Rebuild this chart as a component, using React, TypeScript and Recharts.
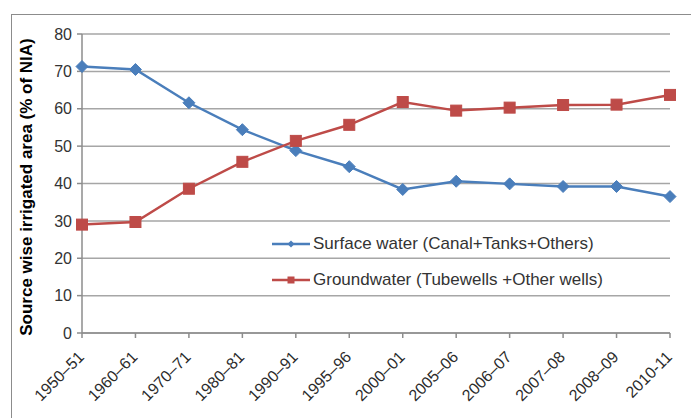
import React from 'react';
import { LineChart, Line, XAxis, YAxis, CartesianGrid, Legend } from 'recharts';

const periods = [
  '1950–51', '1960–61', '1970–71', '1980–81', '1990–91', '1995–96',
  '2000–01', '2005–06', '2006–07', '2007–08', '2008–09', '2010-11',
];
const surfaceWater = [71.3, 70.5, 61.6, 54.4, 48.8, 44.5, 38.4, 40.6, 39.9, 39.2, 39.2, 36.5];
const groundwater = [29.0, 29.7, 38.6, 45.8, 51.4, 55.7, 61.8, 59.5, 60.3, 61.0, 61.1, 63.7];
const yTicks = [0, 10, 20, 30, 40, 50, 60, 70, 80];

const surfaceName = 'Surface water (Canal+Tanks+Others)';
const groundName = 'Groundwater (Tubewells +Other wells)';

const BLUE = '#4a7ebb';
const RED = '#be4b48';
const FONT = '"Liberation Sans", Arial, sans-serif';

const data = periods.map((p, i) => ({
  period: p,
  surface: surfaceWater[i],
  ground: groundwater[i],
}));

const Diamond = (props: any) => {
  const { cx, cy, index } = props;
  if (cx == null || cy == null) return <g key={index} />;
  const r = 6;
  return (
    <path
      key={index}
      d={`M${cx},${cy - r}L${cx + r},${cy}L${cx},${cy + r}L${cx - r},${cy}Z`}
      fill={BLUE}
      stroke={BLUE}
    />
  );
};

const Square = (props: any) => {
  const { cx, cy, index } = props;
  if (cx == null || cy == null) return <g key={index} />;
  const r = 5.5;
  return <rect key={index} x={cx - r} y={cy - r} width={r * 2} height={r * 2} fill={RED} stroke={RED} />;
};

// rotated category label, its end sits just right of and below the tick
const XTick = (props: any) => {
  const { x, y, payload } = props;
  return (
    <g transform={`translate(${x + 3},${y + 18}) rotate(-45)`}>
      <text x={0} y={0} textAnchor="end" fontFamily={FONT} fontSize={16} fill="#2b2b2b">
        {payload.value}
      </text>
    </g>
  );
};

const LegendBox = () => (
  <div style={{ fontFamily: FONT, fontSize: 17, color: '#333', whiteSpace: 'nowrap' }}>
    {[
      { name: surfaceName, color: BLUE, shape: 'diamond' },
      { name: groundName, color: RED, shape: 'square' },
    ].map((item) => (
      <div key={item.name} style={{ display: 'flex', alignItems: 'center', height: 36 }}>
        <svg width={40} height={14}>
          <line x1={0} y1={7} x2={38} y2={7} stroke={item.color} strokeWidth={2.5} />
          {item.shape === 'diamond' ? (
            <path d="M19,3.5L22.5,7L19,10.5L15.5,7Z" fill={item.color} />
          ) : (
            <rect x={15.5} y={3.5} width={7} height={7} fill={item.color} />
          )}
        </svg>
        <span style={{ marginLeft: 1 }}>{item.name}</span>
      </div>
    ))}
  </div>
);

export default function App() {
  return (
    <div style={{ position: 'absolute', left: 0, top: 0, width: 691, height: 418, background: '#fff' }}>
      <div
        style={{
          position: 'absolute',
          left: 11,
          top: 14,
          width: 680,
          height: 404,
          borderLeft: '1.5px solid #8c8c8c',
          borderTop: '1.5px solid #8c8c8c',
        }}
      />
      <LineChart
        width={691}
        height={418}
        data={data}
        margin={{ top: 34, right: 21, bottom: 0, left: 0 }}
      >
        <CartesianGrid vertical={false} stroke="#a6a6a6" strokeWidth={1.5} />
        <XAxis
          dataKey="period"
          interval={0}
          height={85}
          tick={<XTick />}
          tickSize={5}
          tickMargin={2}
          axisLine={{ stroke: '#8c8c8c', strokeWidth: 1.5 }}
          tickLine={{ stroke: '#8c8c8c', strokeWidth: 1.5 }}
        />
        <YAxis
          width={82}
          domain={[0, 80]}
          ticks={yTicks}
          tickSize={5}
          tickMargin={5}
          tick={{ fontFamily: FONT, fontSize: 16, fill: '#333' }}
          axisLine={{ stroke: '#8c8c8c', strokeWidth: 1.5 }}
          tickLine={{ stroke: '#8c8c8c', strokeWidth: 1.5 }}
          label={{
            content: () => (
              <text
                x={32}
                y={187}
                transform="rotate(-90, 32, 187)"
                textAnchor="middle"
                fontFamily={FONT}
                fontSize={17}
                fontWeight="bold"
                fill="#000"
              >
                Source wise irrigated area (% of NIA)
              </text>
            ),
          }}
        />
        <Legend
          layout="vertical"
          align="center"
          verticalAlign="middle"
          content={<LegendBox />}
          wrapperStyle={{ position: 'absolute', left: 272, top: 226, width: 400, height: 72 }}
        />
        <Line
          name={surfaceName}
          dataKey="surface"
          stroke={BLUE}
          strokeWidth={2.5}
          dot={Diamond}
          activeDot={false}
          isAnimationActive={false}
        />
        <Line
          name={groundName}
          dataKey="ground"
          stroke={RED}
          strokeWidth={2.5}
          dot={Square}
          activeDot={false}
          isAnimationActive={false}
        />
      </LineChart>
    </div>
  );
}
